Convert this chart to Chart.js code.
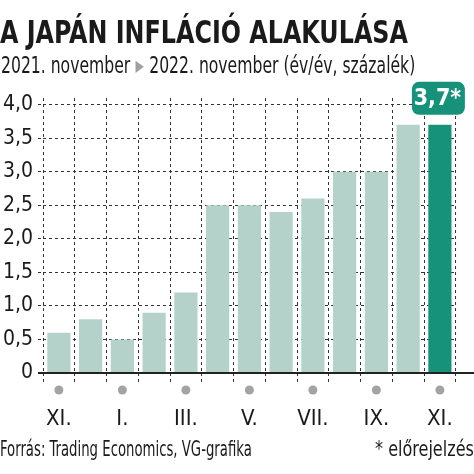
<!DOCTYPE html>
<html lang="hu">
<head>
<meta charset="UTF-8">
<title>A japán infláció alakulása</title>
<script src="https://cdn.jsdelivr.net/npm/chart.js"></script>
<style>
    body {
        margin: 0;
        padding: 0;
        background: #fff;
        font-family: "Liberation Sans Narrow", "DejaVu Sans Condensed", "Roboto Condensed", sans-serif;
        color: #1a1a1a;
    }
    .wrap {
        position: relative;
        width: 474px;
        height: 474px;
        overflow: hidden;
    }
    canvas {
        position: absolute;
        left: 0;
        top: 0;
    }
    .fit {
        position: absolute;
        white-space: nowrap;
        transform-origin: 0 0;
    }
    .title {
        left: 0;
        top: 13px;
        font-size: 32px;
        font-weight: bold;
    }
    .subtitle {
        left: 1px;
        top: 52px;
        font-size: 23px;
    }
    .subtitle .arrow {
        color: #a0a0a0;
        font-size: 16px;
        margin: 0 7px;
        position: relative;
        top: -2px;
    }
    .source {
        left: 0;
        top: 436px;
        font-size: 22px;
    }
    .note {
        left: 375px;
        top: 436px;
        font-size: 22px;
    }
</style>
</head>
<body>
<div class="wrap">
    <canvas id="inflChart" width="474" height="474"></canvas>
    <div class="fit title" data-w="408">A JAPÁN INFLÁCIÓ ALAKULÁSA</div>
    <div class="fit subtitle" data-w="414">2021. november<span class="arrow">&#9654;</span>2022. november (év/év, százalék)</div>
    <div class="fit source" data-w="252">Forrás: Trading Economics, VG-grafika</div>
    <div class="fit note" data-w="99">* előrejelzés</div>
</div>

<script>
    // honapok 2021. nov - 2022. nov
    const months = ['XI.', 'XII.', 'I.', 'II.', 'III.', 'IV.', 'V.', 'VI.', 'VII.', 'VIII.', 'IX.', 'X.', 'XI.'];
    const inflation = [0.6, 0.8, 0.5, 0.9, 1.2, 2.5, 2.5, 2.4, 2.6, 3.0, 3.0, 3.7, 3.7];
    const yTicks = [0, 0.5, 1.0, 1.5, 2.0, 2.5, 3.0, 3.5, 4.0];
    const forecastLabel = '3,7*';

    const FONT = '"Liberation Sans Narrow", "DejaVu Sans Condensed", "Roboto Condensed", sans-serif';
    const lightBar = '#b4d2ca';
    const darkBar = '#17927a';

    const barColors = inflation.map((v, i) => i === inflation.length - 1 ? darkBar : lightBar);

    // a feliratok keskeny betuvel vannak, ezert vizszintesen osszenyomjuk oket
    document.querySelectorAll('.fit').forEach(el => {
        const target = parseFloat(el.dataset.w);
        el.style.transform = 'scaleX(' + (target / el.offsetWidth) + ')';
    });

    // szurke pottyok, tengelyvonal, elorejelzes cimke
    const extrasPlugin = {
        id: 'extras',
        afterDraw(chart) {
            const ctx = chart.ctx;
            const x = chart.scales.x;
            const y = chart.scales.y;
            const area = chart.chartArea;

            ctx.save();
            // x tengely vonal
            ctx.strokeStyle = '#222';
            ctx.lineWidth = 2;
            ctx.beginPath();
            ctx.moveTo(area.left - 5, y.getPixelForValue(0));
            ctx.lineTo(chart.width, y.getPixelForValue(0));
            ctx.stroke();

            // pottyok minden masodik honap alatt
            ctx.fillStyle = '#a3a3a3';
            months.forEach((m, i) => {
                if (i % 2 !== 0) return;
                ctx.beginPath();
                ctx.arc(x.getPixelForValue(i), y.getPixelForValue(0) + 17, 4.5, 0, Math.PI * 2);
                ctx.fill();
            });

            // utolso oszlop cimke
            const last = chart.getDatasetMeta(0).data[inflation.length - 1];
            const bw = 53, bh = 33;
            const bx = last.x - 28;
            const by = last.y - bh - 10;
            ctx.fillStyle = darkBar;
            ctx.beginPath();
            ctx.roundRect(bx, by, bw, bh, 7);
            ctx.fill();
            ctx.fillStyle = '#fff';
            ctx.font = 'bold 23px ' + FONT;
            ctx.textAlign = 'center';
            ctx.textBaseline = 'middle';
            ctx.fillText(forecastLabel, bx + bw / 2 - 1, by + bh / 2 + 1);
            ctx.restore();
        }
    };

    const ctx = document.getElementById('inflChart').getContext('2d');
    const chart = new Chart(ctx, {
        type: 'bar',
        data: {
            labels: months,
            datasets: [{
                data: inflation,
                backgroundColor: barColors,
                borderWidth: 0,
                barPercentage: 0.73,
                categoryPercentage: 1.0
            }]
        },
        options: {
            responsive: false,
            animation: false,
            layout: {
                padding: { top: 98, right: 7, left: 0, bottom: 0 }
            },
            plugins: {
                legend: { display: false },
                tooltip: { enabled: false }
            },
            scales: {
                x: {
                    offset: true,
                    afterFit(scale) { scale.height = 101; },
                    grid: {
                        offset: true,
                        color: '#333',
                        lineWidth: 1,
                        tickLength: 12,
                        tickColor: '#333',
                        tickBorderDash: [3, 3],
                    },
                    border: { display: false, dash: [3, 3] },
                    ticks: {
                        autoSkip: false,
                        maxRotation: 0,
                        padding: 21,
                        color: '#1a1a1a',
                        font: { family: FONT, size: 22 },
                        callback: (v, i) => i % 2 === 0 ? months[i] : ''
                    }
                },
                y: {
                    min: 0,
                    max: 4.1,
                    afterFit(scale) { scale.width = 43; },
                    afterBuildTicks(scale) {
                        scale.ticks = yTicks.map(v => ({ value: v }));
                    },
                    grid: {
                        color: '#333',
                        lineWidth: 1,
                        tickLength: 5,
                        tickColor: '#333',
                        tickBorderDash: [3, 3]
                    },
                    border: { display: false, dash: [3, 3] },
                    ticks: {
                        padding: 5,
                        color: '#1a1a1a',
                        font: { family: FONT, size: 21 },
                        callback: v => v === 0 ? '0' : v.toFixed(1).replace('.', ',')
                    }
                }
            }
        },
        plugins: [extrasPlugin]
    });
</script>
</body>
</html>
